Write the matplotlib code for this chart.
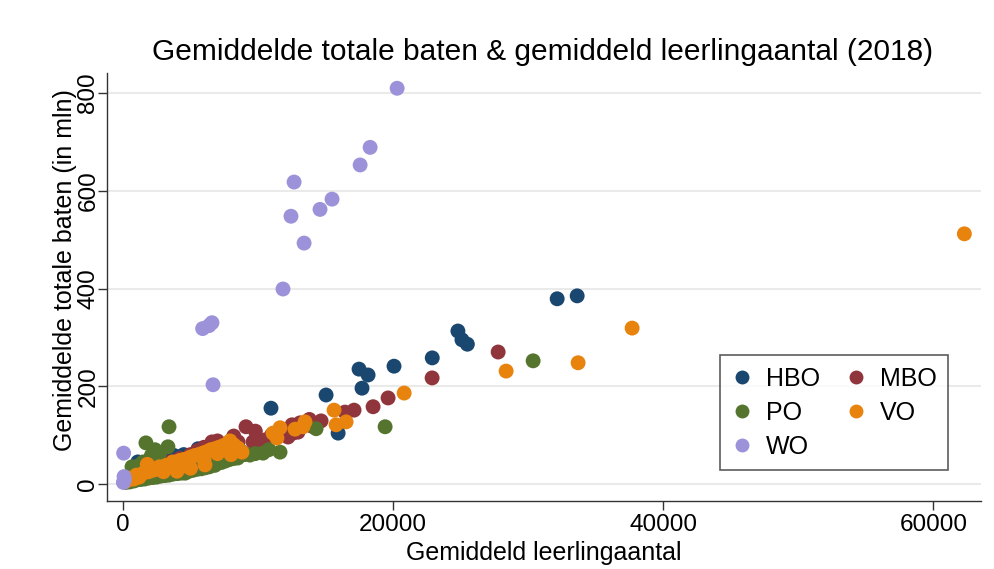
import matplotlib
matplotlib.use("Agg")
import matplotlib.pyplot as plt
from matplotlib.lines import Line2D

plt.rcParams['font.family'] = ['Liberation Sans', 'DejaVu Sans']

categories = ["HBO", "MBO", "PO", "VO", "WO"]
colors = {"HBO": "#1a476f", "MBO": "#90353b", "PO": "#55752f", "VO": "#e8830e", "WO": "#9b92d9"}

hbo_x = [33630, 32150, 24800, 25100, 25500, 22900, 20070, 18150, 17480, 17700, 15040, 10960, 15930,
         5560, 3110, 1100, 2890, 2000, 3800, 4500, 6300, 1500, 2500]
hbo_y = [385, 379, 313, 295, 286, 258, 241, 223, 235, 196, 182, 155, 104,
         72, 59, 45, 49, 38, 58, 60, 76, 30, 45]

mbo_x = [27780, 22890, 19630, 18520, 17110, 16440, 14670, 13110, 12590, 12220, 12960, 10520, 9630, 9110,
         6670, 6590, 10150, 8520, 12520, 2500, 3500, 5500, 7000, 8200, 9800, 11000, 11800, 14000, 13800,
         2000, 1500, 4200, 5000, 6000]
mbo_y = [270, 217, 176, 158, 151, 147, 129, 125, 104, 96, 106, 90, 86, 117,
         84, 86, 86, 86, 121, 32, 45, 68, 88, 98, 108, 100, 110, 118, 132,
         28, 20, 52, 60, 75]

po_x = [30370, 19410, 14300, 11630, 10370, 9400, 3410, 1700, 3330, 2370, 1000, 1500, 2000, 670, 1200,
        2700, 2100,
        200, 500, 800, 1000, 1300, 1600, 1900, 2200, 2500, 2800, 3100, 3400, 3700, 4000, 4300, 4600,
        4900, 5200, 5500, 5800, 6100, 6400, 6800, 7000, 7300, 7600, 7900, 8200, 8500, 9000, 9800, 10800,
        6200, 7400, 5000, 8800]
po_y = [252, 117, 113, 65, 63, 59, 117, 84, 76, 70, 30, 45, 50, 35, 38,
        62, 58,
        3, 4, 6, 8, 9, 10, 12, 13, 14, 16, 17, 18, 20, 21, 22, 22,
        26, 28, 30, 31, 33, 35, 38, 42, 44, 47, 50, 52, 53, 60, 62, 70,
        45, 55, 40, 66]

vo_x = [62300, 37700, 33700, 28370, 20820, 11630, 11400, 12740, 13330, 13480, 15630, 15780, 16520, 11110,
        7926, 8815, 150, 400, 600, 800, 1000, 1200, 1500, 1800, 1900, 2200, 2500, 2700, 3000, 3200,
        3500, 3700, 4000, 4200, 4500, 4800, 5000, 5300, 5600, 5900, 6200, 6500, 6800, 7100, 7400, 7700,
        8200, 8500, 6000, 7000, 3000, 4300, 5000, 4000, 8000, 6070]
vo_y = [512, 319, 248, 231, 186, 115, 94, 112, 117, 127, 151, 121, 127, 104,
        88, 65, 5, 8, 12, 10, 18, 14, 22, 40, 25, 28, 30, 35, 33, 38,
        40, 45, 42, 48, 50, 52, 55, 58, 60, 63, 66, 70, 72, 75, 78, 82,
        80, 74, 50, 62, 25, 35, 32, 26, 60, 39]

wo_x = [20300, 18300, 17560, 12670, 15480, 14590, 12440, 13410, 11850, 5900, 6590, 6370, 6670, 50, 100, 80, 30]
wo_y = [810, 689, 653, 618, 583, 562, 548, 493, 399, 318, 330, 324, 203, 63, 8, 15, 3]

data = {"HBO": (hbo_x, hbo_y), "MBO": (mbo_x, mbo_y), "PO": (po_x, po_y),
        "VO": (vo_x, vo_y), "WO": (wo_x, wo_y)}

xticks = [0, 20000, 40000, 60000]
yticks = [0, 200, 400, 600, 800]

fig = plt.figure(figsize=(9.95, 5.69), dpi=100)
ax = fig.add_axes([0.1075, 0.1195, 0.878, 0.752])

for cat in categories:
    xs, ys = data[cat]
    ax.scatter(xs, ys, s=115, color=colors[cat], edgecolors='none', zorder=3)

ax.set_xlim(-1185, 63500)
ax.set_ylim(-35, 841)
ax.set_xticks(xticks)
ax.set_yticks(yticks)
ax.set_xticklabels([str(t) for t in xticks], fontsize=17.5)
ax.set_yticklabels([str(t) for t in yticks], fontsize=17.5, rotation=90, va='center')
ax.tick_params(axis='both', direction='out', length=6.5, width=1, color='#333333')
ax.tick_params(axis='x', pad=2.5)
ax.tick_params(axis='y', pad=-1)
ax.grid(axis='y', color='#eaeaea', linewidth=1.5, zorder=0)
ax.set_axisbelow(True)
for side in ['top', 'right']:
    ax.spines[side].set_visible(False)
for side in ['left', 'bottom']:
    ax.spines[side].set_color('#333333')
    ax.spines[side].set_linewidth(1)

ax.set_xlabel("Gemiddeld leerlingaantal", fontsize=18, labelpad=4)
ax.set_ylabel("Gemiddelde totale baten (in mln)", fontsize=18)
ax.yaxis.label.set_va('center')
ax.yaxis.set_label_coords(-0.0478, 0.54)
fig.text(0.545, 0.9086, "Gemiddelde totale baten & gemiddeld leerlingaantal (2018)",
         fontsize=21.5, ha='center', va='center')

order = ["HBO", "PO", "WO", "MBO", "VO"]
handles = [Line2D([0], [0], marker='o', linestyle='none', markersize=10,
                  markerfacecolor=colors[c], markeredgecolor='none') for c in order]
leg = ax.legend(handles, order, ncol=2, loc='lower right', bbox_to_anchor=(0.963, 0.073),
                borderaxespad=0, fontsize=18, frameon=True, fancybox=False, edgecolor='#333333',
                handletextpad=0.5, columnspacing=1.0, borderpad=0.45, labelspacing=0.4,
                handlelength=0.9)
leg.get_frame().set_linewidth(1.2)

fig.savefig("out.png", dpi=100, facecolor='white')
